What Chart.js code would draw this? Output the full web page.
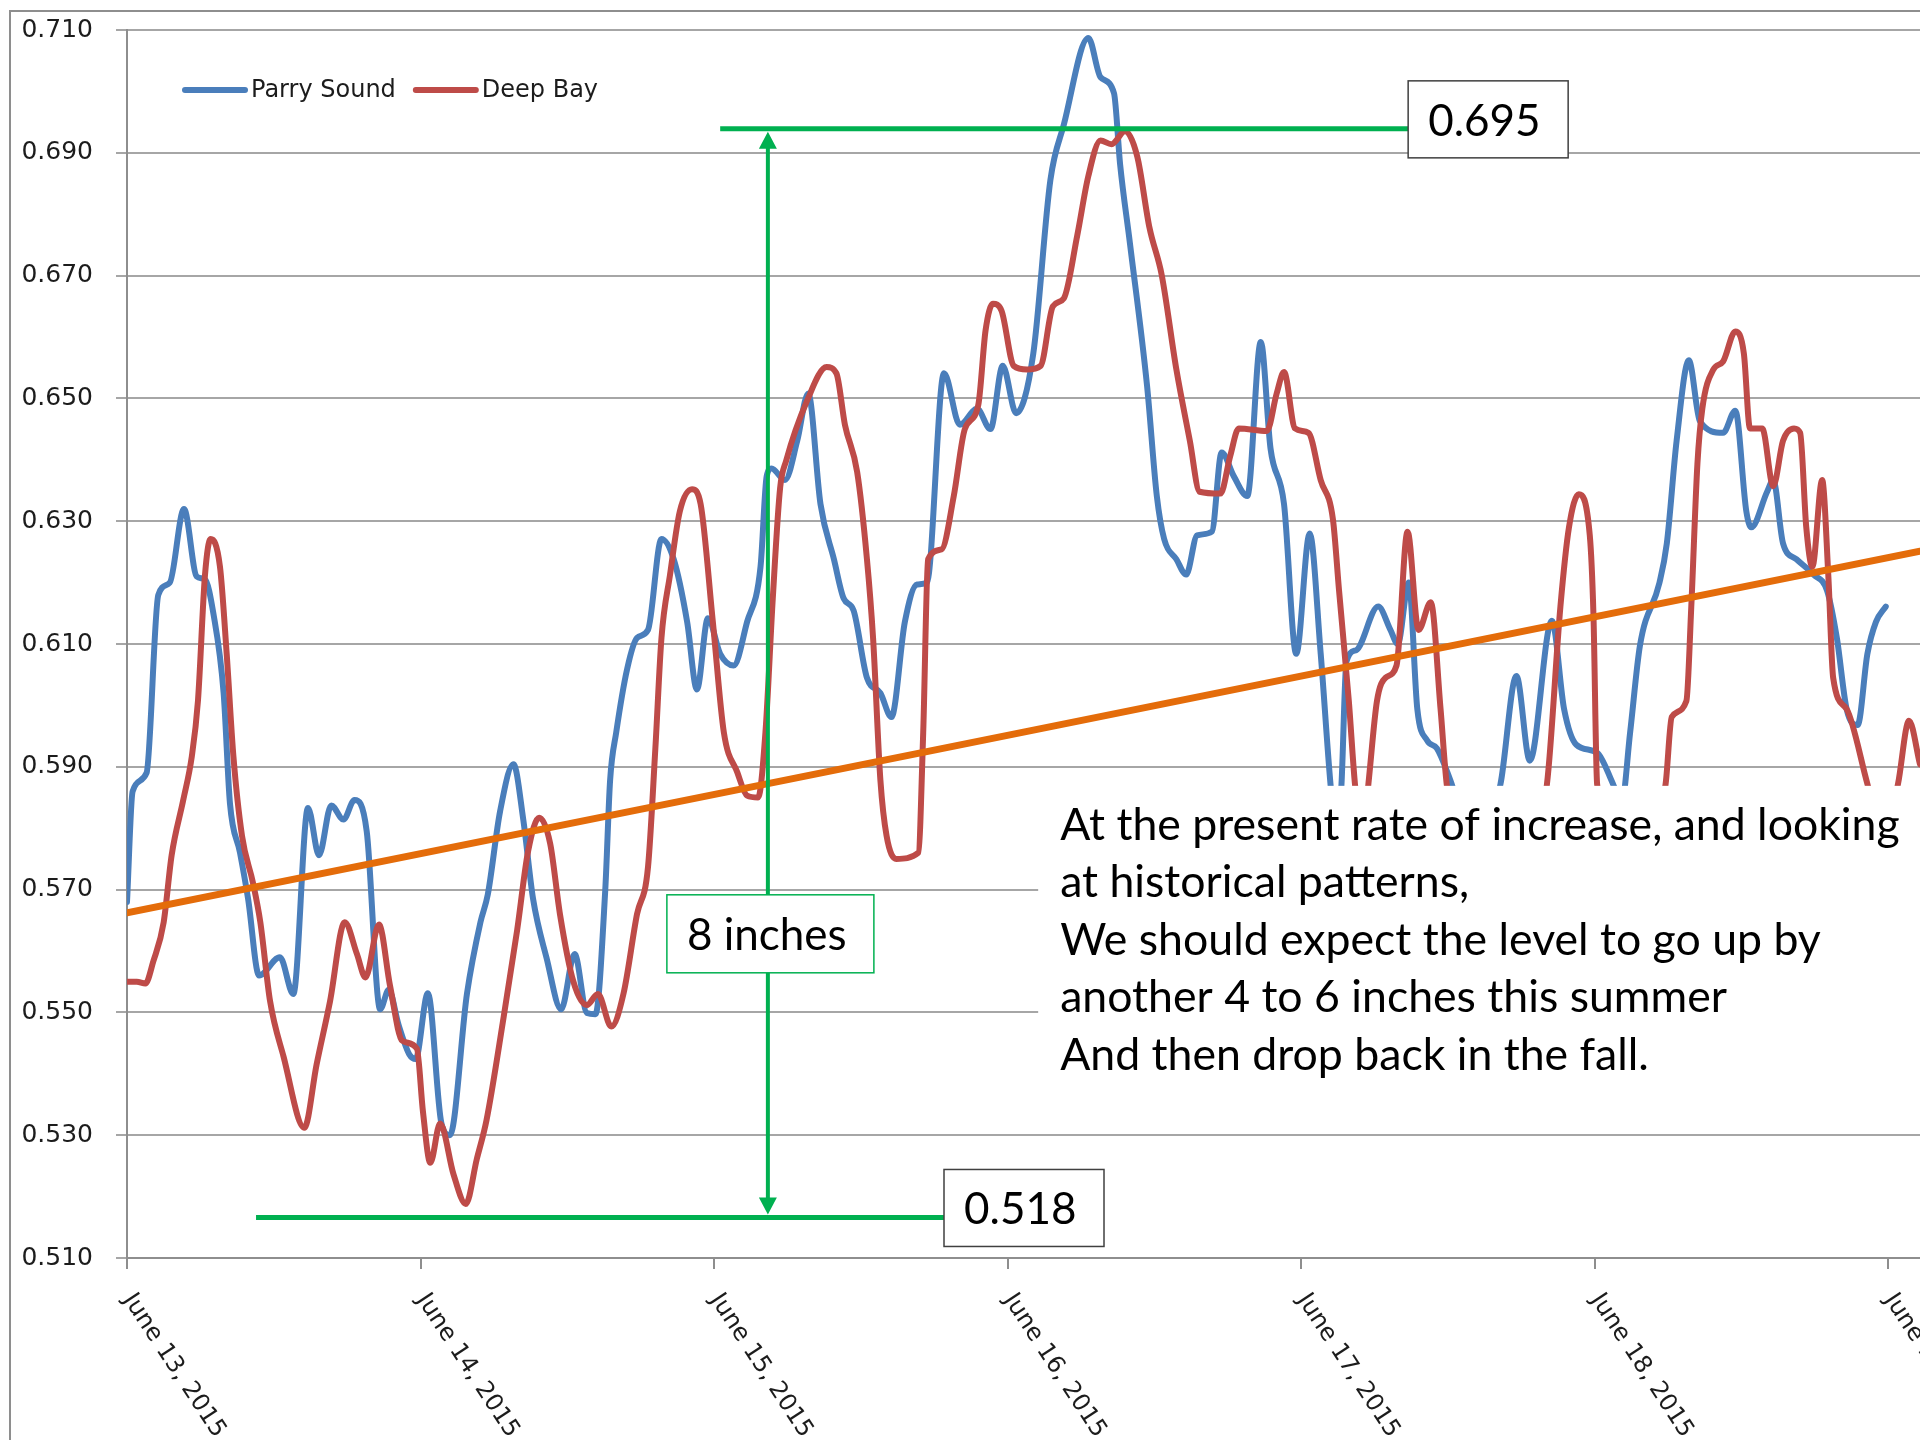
<!DOCTYPE html>
<html>
<head>
<meta charset="utf-8">
<script src="https://cdn.jsdelivr.net/npm/chart.js@4.4.1/dist/chart.umd.min.js"></script>
<style>
  html, body { margin: 0; padding: 0; background: #fff; overflow: hidden; }
  #wrap { position: relative; width: 1920px; height: 1440px; overflow: hidden; }
  #frame { position: absolute; left: 9px; top: 10px; width: 2000px; height: 2000px;
           border-left: 2px solid #8e8e8e; border-top: 2px solid #8e8e8e; }
  #levelChart { position: absolute; left: 0; top: 0; }
</style>
</head>
<body>
<div id="wrap">
  <div id="frame"></div>
  <canvas id="levelChart" width="1920" height="1440"></canvas>
</div>
<script>
// x values are hours after June 13, 2015 00:00
const dayTicks = [0, 24, 48, 72, 96, 120, 144];
const dayLabels = ['June 13, 2015', 'June 14, 2015', 'June 15, 2015', 'June 16, 2015',
                   'June 17, 2015', 'June 18, 2015', 'June 19, 2015'];
const levelTicks = [0.510, 0.530, 0.550, 0.570, 0.590, 0.610, 0.630, 0.650, 0.670, 0.690, 0.710];

const parryHours = [0, 0.46, 1.6, 2.56, 3.5, 4.66, 5.7, 6.38, 7.06, 7.9, 8.42, 9.24, 9.9, 10.8, 12.5, 13.6,
  14.8, 15.7, 16.7, 17.7, 18.6, 19.6, 20.7, 21.4, 22.2, 23.1, 23.6, 24.6, 25.7, 26.4, 27.8, 28.9, 29.5,
  30.5, 31.6, 32.4, 33.2, 34.3, 35.5, 36.6, 37.6, 38.3, 39.1, 39.5, 40.0, 40.9, 41.7, 42.6, 43.7, 44.7,
  45.8, 46.6, 47.5, 48.5, 49.6, 50.7, 51.8, 52.3, 52.7, 53.8, 54.8, 55.7, 56.7, 57.8, 58.6, 59.4, 60.5,
  61.6, 62.5, 63.6, 64.6, 65.4, 66.8, 68.1, 69.5, 70.6, 71.6, 72.7, 74.1, 75.5, 76.6, 78.6, 79.6, 80.7,
  81.2, 82.0, 83.4, 84.2, 84.8, 85.8, 86.6, 87.5, 88.7, 89.5, 90.5, 91.6, 92.7, 93.5, 94.6, 95.6, 96.7,
  97.6, 98.4, 98.9, 99.3, 99.7, 100.5, 102.3, 103.3, 103.9, 104.8, 105.5, 106.3, 107.1, 108.2, 110.3,
  112.3, 113.6, 114.7, 116.5, 117.5, 118.5, 120.2, 121.5, 122.2, 122.9, 123.7, 125.3, 125.9, 126.7,
  127.7, 128.6, 130.5, 131.5, 132.4, 132.8, 134.1, 134.6, 135.4, 136.5, 137.9, 139.0, 139.8, 140.6,
  141.5, 142.3, 143.0, 143.8];
const parryLevels = [0.568, 0.586, 0.589, 0.618, 0.620, 0.632, 0.621, 0.6205, 0.615, 0.602, 0.584, 0.576,
  0.5685, 0.556, 0.559, 0.553, 0.5833, 0.5756, 0.5837, 0.5814, 0.5846, 0.5795, 0.5505, 0.5537, 0.548,
  0.5431, 0.5424, 0.5531, 0.532, 0.530, 0.5531, 0.5647, 0.5692, 0.5827, 0.5904, 0.5814, 0.5685, 0.5589,
  0.5505, 0.5595, 0.5499, 0.5497, 0.5698, 0.5878, 0.5956, 0.606, 0.611, 0.6123, 0.6271, 0.6238, 0.6136,
  0.6026, 0.6142, 0.6084, 0.6065, 0.6136, 0.6226, 0.6373, 0.6386, 0.6367, 0.6431, 0.6508, 0.6328, 0.6238,
  0.6174, 0.6155, 0.6045, 0.602, 0.5981, 0.6136, 0.6197, 0.620, 0.6541, 0.6457, 0.6483, 0.645, 0.6553,
  0.6476, 0.6573, 0.6856, 0.6946, 0.7087, 0.7023, 0.6997, 0.6881, 0.6753, 0.6521, 0.6341, 0.6271, 0.6238,
  0.6213, 0.6277, 0.6283, 0.6412, 0.6373, 0.6341, 0.6592, 0.6418, 0.6328, 0.6084, 0.628, 0.6084, 0.5872,
  0.578, 0.5872, 0.6071, 0.609, 0.6161, 0.6123, 0.610, 0.620, 0.5994, 0.5943, 0.593, 0.5878, 0.576,
  0.5872, 0.6048, 0.591, 0.6138, 0.5994, 0.5936, 0.5923, 0.5872, 0.584, 0.5956, 0.6097, 0.620, 0.6264,
  0.6431, 0.6562, 0.6463, 0.6444, 0.648, 0.6316, 0.629, 0.6348, 0.6367, 0.6264, 0.6238, 0.6213, 0.6187,
  0.611, 0.5994, 0.5968, 0.6084, 0.6136, 0.6161];

const deepHours = [0, 0.8, 1.5, 2.15, 3.0, 3.65, 4.6, 5.3, 5.8, 6.38, 6.84, 7.6, 8.15, 8.7, 9.4, 10.3,
  10.9, 11.7, 12.8, 14.5, 15.5, 16.6, 17.8, 18.8, 19.5, 20.6, 21.5, 22.5, 23.7, 24.2, 24.8, 25.6, 26.7,
  27.7, 28.6, 29.4, 30.8, 31.9, 32.8, 33.7, 34.6, 35.4, 36.5, 37.6, 38.5, 39.6, 40.6, 41.7, 42.6, 43.2,
  43.7, 44.4, 45.2, 46.2, 46.9, 47.9, 48.8, 49.9, 50.7, 51.6, 52.2, 52.8, 53.4, 53.9, 55.6, 57.2, 58.0,
  58.7, 59.7, 60.5, 61.0, 61.6, 62.1, 62.9, 64.7, 65.1, 65.5, 66.6, 67.6, 68.5, 69.6, 70.2, 70.8, 71.5,
  72.5, 73.6, 74.7, 75.7, 76.6, 77.7, 78.6, 79.6, 80.5, 81.6, 82.6, 83.6, 84.6, 85.8, 86.9, 87.7, 89.4,
  90.2, 90.9, 93.2, 94.0, 94.6, 95.5, 96.6, 97.6, 98.6, 99.1, 99.9, 100.4, 101.0, 101.5, 102.2, 102.9,
  103.8, 104.7, 105.6, 106.6, 107.4, 107.9, 110.0, 113.0, 116.1, 117.2, 117.9, 118.7, 119.6, 119.9,
  120.2, 123.0, 125.8, 126.3, 127.5, 127.9, 128.4, 128.8, 129.7, 130.5, 131.5, 132.2, 132.7, 133.7,
  134.6, 135.4, 136.3, 136.8, 137.3, 137.8, 138.6, 139.1, 139.5, 140.6, 142.3, 143.6, 144.8, 145.7, 146.6];
const deepLevels = [0.555, 0.555, 0.5547, 0.5583, 0.5647, 0.5756, 0.5846, 0.5917, 0.6007, 0.6213, 0.6271,
  0.6226, 0.6084, 0.5917, 0.5788, 0.5711, 0.5647, 0.5518, 0.5428, 0.5312, 0.5415, 0.5518, 0.5647, 0.5595,
  0.5557, 0.5643, 0.5544, 0.5454, 0.5441, 0.5338, 0.5255, 0.5319, 0.5236, 0.5188, 0.5261, 0.5325, 0.5493,
  0.5634, 0.5763, 0.5817, 0.5775, 0.566, 0.555, 0.5512, 0.553, 0.5477, 0.5531, 0.566, 0.5737, 0.593,
  0.611, 0.6213, 0.6316, 0.6352, 0.6328, 0.6136, 0.5956, 0.5891, 0.5853, 0.585, 0.5956, 0.6174, 0.6354,
  0.6399, 0.6496, 0.6551, 0.6541, 0.6457, 0.638, 0.6238, 0.611, 0.5878, 0.5788, 0.575, 0.576, 0.5956,
  0.6238, 0.6254, 0.6341, 0.645, 0.6489, 0.6611, 0.6654, 0.6643, 0.6553, 0.6547, 0.6553, 0.665, 0.6663,
  0.6766, 0.6862, 0.692, 0.6914, 0.6935, 0.6894, 0.6778, 0.6701, 0.6547, 0.6431, 0.6348, 0.6345, 0.6406,
  0.6451, 0.6447, 0.6508, 0.6543, 0.6451, 0.6444, 0.6367, 0.6303, 0.6187, 0.6007, 0.5872, 0.578, 0.5872,
  0.6007, 0.6045, 0.6065, 0.6283, 0.6123, 0.6168, 0.5994, 0.5872, 0.566, 0.566, 0.5872, 0.6161, 0.629,
  0.6344, 0.6277, 0.6148, 0.5872, 0.570, 0.5872, 0.5981, 0.6007, 0.6161, 0.6393, 0.6483, 0.6547, 0.656,
  0.6609, 0.6573, 0.6451, 0.6451, 0.6357, 0.6431, 0.6451, 0.6444, 0.629, 0.6226, 0.6367, 0.6213, 0.6045,
  0.5994, 0.5872, 0.578, 0.5872, 0.5975, 0.5904];

const trendHours = [0, 146.6];
const trendLevels = [0.5662, 0.6251];

// annotation anchors, in hours / levels
const highLine = { from: 48.5, to: 104.75, level: 0.6939, text: '0.695' };
const lowLine = { from: 10.55, to: 66.8, level: 0.5166, text: '0.518' };
const spanArrow = { at: 52.4, level: 0.5628, text: '8 inches' };
const note = { from: 74.5, top: 0.5869, bottom: 0.5354 };
const noteLines = [
  'At the present rate of increase, and looking',
  'at historical patterns,',
  'We should expect the level to go up by',
  'another 4 to 6 inches this summer',
  'And then drop back in the fall.'
];

const GREEN = '#00b050';
const AXIS_TEXT = '#1c1c1c';

function toPoints(xs, ys) {
  return xs.map((x, i) => ({ x: x, y: ys[i] }));
}

function labelBox(ctx, left, top, w, h, text, stroke) {
  ctx.fillStyle = '#fff';
  ctx.fillRect(left, top, w, h);
  ctx.strokeStyle = stroke;
  ctx.lineWidth = 1.5;
  ctx.strokeRect(left, top, w, h);
  ctx.fillStyle = '#000';
  ctx.font = '44px Lato';
  ctx.textAlign = 'left';
  ctx.textBaseline = 'alphabetic';
  ctx.fillText(text, left + 20, top + 55);
}

const annotations = {
  id: 'annotations',
  afterDatasetsDraw(chart) {
    const { ctx, scales: { x, y } } = chart;
    ctx.save();

    // green level lines
    ctx.strokeStyle = GREEN;
    ctx.lineWidth = 5;
    [highLine, lowLine].forEach(l => {
      const py = y.getPixelForValue(l.level);
      ctx.beginPath();
      ctx.moveTo(x.getPixelForValue(l.from), py);
      ctx.lineTo(x.getPixelForValue(l.to), py);
      ctx.stroke();
    });

    // double arrow between them
    const ax = x.getPixelForValue(spanArrow.at);
    const top = y.getPixelForValue(highLine.level) + 3;
    const bottom = y.getPixelForValue(lowLine.level) - 3;
    ctx.lineWidth = 4;
    ctx.beginPath();
    ctx.moveTo(ax, top + 12);
    ctx.lineTo(ax, bottom - 12);
    ctx.stroke();
    ctx.fillStyle = GREEN;
    ctx.beginPath();
    ctx.moveTo(ax, top); ctx.lineTo(ax - 9, top + 17); ctx.lineTo(ax + 9, top + 17); ctx.closePath();
    ctx.moveTo(ax, bottom); ctx.lineTo(ax - 9, bottom - 17); ctx.lineTo(ax + 9, bottom - 17); ctx.closePath();
    ctx.fill();

    // value boxes
    labelBox(ctx, x.getPixelForValue(highLine.to), y.getPixelForValue(highLine.level) - 48, 160, 77, highLine.text, '#404040');
    labelBox(ctx, x.getPixelForValue(lowLine.to), y.getPixelForValue(lowLine.level) - 48, 160, 77, lowLine.text, '#404040');
    labelBox(ctx, ax - 101, y.getPixelForValue(spanArrow.level) - 39, 207, 78, spanArrow.text, GREEN);

    // note panel
    const nx = x.getPixelForValue(note.from);
    const ny = y.getPixelForValue(note.top);
    ctx.fillStyle = '#fff';
    ctx.fillRect(nx, ny, chart.chartArea.right - nx, y.getPixelForValue(note.bottom) - ny);
    ctx.font = '100px Lato';
    const size = 100 * 839 / ctx.measureText(noteLines[0]).width;
    ctx.font = size.toFixed(1) + 'px Lato';
    ctx.fillStyle = '#000';
    ctx.textAlign = 'left';
    ctx.textBaseline = 'alphabetic';
    noteLines.forEach((t, i) => ctx.fillText(t, nx + 22, ny + 54 + i * 57.5));

    ctx.restore();
  }
};

const extras = {
  id: 'extras',
  afterDraw(chart) {
    const { ctx, scales: { x, y } } = chart;
    ctx.save();

    // rotated day labels
    ctx.font = '24px "DejaVu Sans"';
    ctx.fillStyle = AXIS_TEXT;
    ctx.textAlign = 'left';
    ctx.textBaseline = 'middle';
    dayTicks.forEach((t, i) => {
      ctx.save();
      ctx.translate(x.getPixelForValue(t) + 1, y.bottom + 38);
      ctx.rotate(56.6 * Math.PI / 180);
      ctx.fillText(dayLabels[i], 0, 0);
      ctx.restore();
    });

    // legend inside the plot
    const items = chart.data.datasets.filter(d => d.label !== 'Trend');
    let lx = 185;
    const ly = 90;
    ctx.lineCap = 'round';
    ctx.lineWidth = 6;
    items.forEach(d => {
      ctx.strokeStyle = d.borderColor;
      ctx.beginPath();
      ctx.moveTo(lx, ly);
      ctx.lineTo(lx + 60, ly);
      ctx.stroke();
      ctx.fillStyle = AXIS_TEXT;
      ctx.fillText(d.label, lx + 66, ly + 1);
      lx += 66 + ctx.measureText(d.label).width + 20;
    });
    ctx.restore();
  }
};

new Chart(document.getElementById('levelChart'), {
  type: 'line',
  data: {
    datasets: [
      {
        label: 'Parry Sound',
        data: toPoints(parryHours, parryLevels),
        borderColor: '#4a7ebb',
        borderWidth: 6,
        order: 3
      },
      {
        label: 'Deep Bay',
        data: toPoints(deepHours, deepLevels),
        borderColor: '#be4b48',
        borderWidth: 6,
        order: 2
      },
      {
        label: 'Trend',
        data: toPoints(trendHours, trendLevels),
        borderColor: '#e46c0a',
        borderWidth: 7,
        tension: 0,
        order: 1
      }
    ]
  },
  options: {
    responsive: false,
    animation: false,
    layout: { padding: { left: 10, top: 30, right: 0, bottom: 0 } },
    elements: {
      point: { radius: 0, hoverRadius: 0 },
      line: { tension: 0.4, cubicInterpolationMode: 'monotone', borderCapStyle: 'round', borderJoinStyle: 'round' }
    },
    plugins: {
      legend: { display: false },
      tooltip: { enabled: false }
    },
    scales: {
      x: {
        type: 'linear',
        min: 0,
        max: 146.6,
        afterBuildTicks: s => { s.ticks = dayTicks.map(v => ({ value: v })); },
        afterFit: s => { s.height = 182; s.paddingLeft = 0; s.paddingRight = 0; },
        ticks: { display: false },
        grid: { drawOnChartArea: false, drawTicks: true, tickLength: 11, color: '#8e8e8e', lineWidth: 2 },
        border: { color: '#8e8e8e', width: 2 }
      },
      y: {
        min: 0.51,
        max: 0.71,
        afterBuildTicks: s => { s.ticks = levelTicks.map(v => ({ value: v })); },
        afterFit: s => { s.width = 117; s.paddingTop = 0; s.paddingBottom = 0; },
        ticks: {
          callback: v => v.toFixed(3),
          font: { family: 'DejaVu Sans', size: 25 },
          color: AXIS_TEXT,
          padding: 23,
          autoSkip: false
        },
        grid: { color: '#a6a6a6', lineWidth: 2, tickLength: 11 },
        border: { color: '#8e8e8e', width: 2 }
      }
    }
  },
  plugins: [annotations, extras]
});
</script>
</body>
</html>
